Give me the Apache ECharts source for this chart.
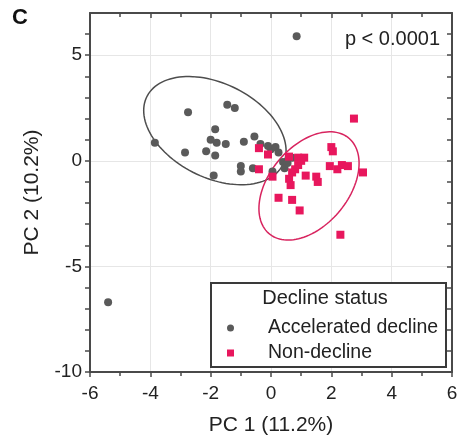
<!DOCTYPE html>
<html>
<head>
<meta charset="utf-8">
<script src="https://cdn.jsdelivr.net/npm/echarts@6/dist/echarts.min.js"></script>
<style>
html,body{margin:0;padding:0;background:#fff;}
#chart{width:464px;height:442px;}
</style>
</head>
<body>
<div id="chart"></div>
<script>
// ---- data ----
const seriesNames = ['Accelerated decline', 'Non-decline'];
const acceleratedDecline = [
  [-5.4,-6.7],[0.85,5.9],[-3.85,0.85],[-2.75,2.3],[-2.85,0.4],[-2.15,0.45],[-1.85,1.5],
  [-2.0,1.0],[-1.8,0.85],[-1.5,0.8],[-1.85,0.25],[-1.9,-0.7],[-1.45,2.65],[-1.2,2.5],
  [-1.0,-0.25],[-1.0,-0.5],[-0.9,0.9],[-0.55,1.15],[-0.6,-0.35],[-0.35,0.8],[0.0,0.55],
  [0.15,0.65],[0.25,0.4],[0.05,-0.5],[0.4,-0.05],[0.55,-0.1],[0.7,0.15],[0.45,-0.35],[-0.1,0.7]
];
const nonDecline = [
  [2.75,2.0],[2.0,0.65],[2.05,0.45],[1.95,-0.25],[2.2,-0.4],[2.35,-0.2],[2.55,-0.25],
  [3.05,-0.55],[2.3,-3.5],[1.1,0.15],[0.9,0.15],[0.9,-0.2],[1.15,-0.7],[1.5,-0.75],
  [1.55,-1.0],[0.6,-0.85],[0.65,-1.15],[0.25,-1.75],[0.7,-1.85],[0.95,-2.35],[-0.4,0.6],
  [-0.1,0.3],[-0.4,-0.4],[0.05,-0.75],[0.6,0.2],[0.8,-0.4],[1.0,0.0],[0.7,-0.55]
];
// confidence ellipses: centre, right-most point, top point above the centre
const acceleratedEllipseCenter = [-1.86, 1.43];
const acceleratedEllipseRight = [0.50, 0.48];
const acceleratedEllipseTop = [-1.86, 3.81];
const nonDeclineEllipseCenter = [1.26, -1.19];
const nonDeclineEllipseRight = [2.92, -0.12];
const nonDeclineEllipseTop = [1.26, 1.14];

const xTickLabels = [-6,-4,-2,0,2,4,6];
const yTickLabels = [-10,-5,0,5];
const xTitle = 'PC 1 (11.2%)';
const yTitle = 'PC 2 (10.2%)';
const legendTitle = 'Decline status';
const pText = 'p < 0.0001';
const panelLabel = 'C';

const GRAY = '#5a5a5a';
const PINK = '#e8175d';
const AXIS = '#4a4a4a';
const FONT = 'Liberation Sans, Arial, sans-serif';

const chart = echarts.init(document.getElementById('chart'), null, {renderer: 'canvas'});

function ellipseItem(center, right, top, color) {
  return {
    type: 'custom',
    xAxisIndex: 0, yAxisIndex: 0,
    silent: true,
    z: 1,
    data: [center],
    renderItem: function (params, api) {
      const c = api.coord(center);
      const r = api.coord(right);
      const t = api.coord(top);
      const u = [r[0] - c[0], r[1] - c[1]];
      const v = [t[0] - c[0], t[1] - c[1]];
      const pts = [];
      const n = 120;
      for (let i = 0; i < n; i++) {
        const a = 2 * Math.PI * i / n;
        pts.push([c[0] + Math.cos(a) * u[0] + Math.sin(a) * v[0],
                  c[1] + Math.cos(a) * u[1] + Math.sin(a) * v[1]]);
      }
      return {
        type: 'polygon',
        shape: {points: pts},
        style: {fill: null, stroke: color, lineWidth: 1.5}
      };
    }
  };
}

const option = {
  animation: false,
  backgroundColor: '#fff',
  textStyle: {fontFamily: FONT},
  grid: {left: 90, right: 12, top: 13, bottom: 70},
  xAxis: [
    {
      type: 'value', position: 'bottom', min: -6, max: 6, interval: 2,
      name: xTitle, nameLocation: 'middle', nameGap: 43,
      nameTextStyle: {fontSize: 21, color: '#222', fontFamily: FONT},
      axisLine: {show: true, onZero: false, lineStyle: {color: AXIS, width: 2}},
      axisTick: {show: true, inside: false, length: 5, lineStyle: {color: AXIS, width: 1.5}},
      minorTick: {show: true, splitNumber: 2, length: 4, lineStyle: {color: AXIS, width: 1.5}},
      axisLabel: {fontSize: 19, color: '#222', margin: 12, fontFamily: FONT,
        formatter: v => xTickLabels.indexOf(v) >= 0 ? String(v) : ''},
      splitLine: {show: true, lineStyle: {color: '#e6e6e6', width: 1}}
    },
    {
      type: 'value', position: 'top', min: -6, max: 6, interval: 2,
      axisLine: {show: true, onZero: false, lineStyle: {color: AXIS, width: 2}},
      axisTick: {show: true, inside: true, length: 5, lineStyle: {color: AXIS, width: 1.5}},
      minorTick: {show: true, splitNumber: 2, length: 4, lineStyle: {color: AXIS, width: 1.5}},
      axisLabel: {show: false}, splitLine: {show: false}
    }
  ],
  yAxis: [
    {
      type: 'value', position: 'left', min: -10, max: 7, interval: 1,
      name: yTitle, nameLocation: 'middle', nameGap: 47, nameRotate: 90,
      nameTextStyle: {fontSize: 21, color: '#222', fontFamily: FONT},
      axisLine: {show: true, onZero: false, lineStyle: {color: AXIS, width: 2}},
      axisTick: {show: true, inside: false, length: 5, lineStyle: {color: AXIS, width: 1.5}},
      axisLabel: {fontSize: 19, color: '#222', margin: 8, fontFamily: FONT,
        showMaxLabel: false,
        formatter: v => yTickLabels.indexOf(v) >= 0 ? String(v) : ''},
      splitLine: {show: false}
    },
    {
      type: 'value', position: 'right', min: -10, max: 7, interval: 1,
      axisLine: {show: true, onZero: false, lineStyle: {color: AXIS, width: 2}},
      axisTick: {show: true, inside: true, length: 5, lineStyle: {color: AXIS, width: 1.5}},
      axisLabel: {show: false}, splitLine: {show: false}
    },
    {
      type: 'value', position: 'left', min: -10, max: 7, interval: 5,
      axisLine: {show: false}, axisTick: {show: false}, axisLabel: {show: false},
      splitLine: {show: true, lineStyle: {color: '#e6e6e6', width: 1}}
    }
  ],
  legend: {
    orient: 'vertical',
    left: 222, top: 313,
    itemWidth: 7, itemHeight: 7,
    itemGap: 5,
    z: 20,
    selectedMode: false,
    textStyle: {fontSize: 19.5, color: '#222', fontFamily: FONT, lineHeight: 20, padding: [0, 0, 0, 29]},
    data: [
      {name: seriesNames[0], icon: 'circle'},
      {name: seriesNames[1], icon: 'rect'}
    ]
  },
  graphic: [
    {type: 'text', left: 12, top: 7, z: 10,
      style: {text: panelLabel, font: 'bold 22px ' + FONT, fill: '#111'}},
    {type: 'text', z: 10, x: 440, y: 39,
      style: {text: pText, font: '20px ' + FONT, fill: '#222', textAlign: 'right', textVerticalAlign: 'middle'}},
    {type: 'rect', z: 8, shape: {x: 211, y: 283, width: 235, height: 84},
      style: {fill: '#fff', stroke: '#3a3a3a', lineWidth: 2}},
    {type: 'text', z: 10, x: 325, y: 298,
      style: {text: legendTitle, font: '20px ' + FONT, fill: '#222', textAlign: 'center', textVerticalAlign: 'middle'}}
  ],
  series: [
    ellipseItem(acceleratedEllipseCenter, acceleratedEllipseRight, acceleratedEllipseTop, '#4d4d4d'),
    ellipseItem(nonDeclineEllipseCenter, nonDeclineEllipseRight, nonDeclineEllipseTop, '#d8245f'),
    {
      name: seriesNames[0], type: 'scatter', xAxisIndex: 0, yAxisIndex: 0, z: 3,
      symbol: 'circle', symbolSize: 8,
      itemStyle: {color: GRAY, opacity: 1},
      data: acceleratedDecline
    },
    {
      name: seriesNames[1], type: 'scatter', xAxisIndex: 0, yAxisIndex: 0, z: 4,
      symbol: 'rect', symbolSize: 8,
      itemStyle: {color: PINK, opacity: 1},
      data: nonDecline
    }
  ]
};
chart.setOption(option);
</script>
</body>
</html>
